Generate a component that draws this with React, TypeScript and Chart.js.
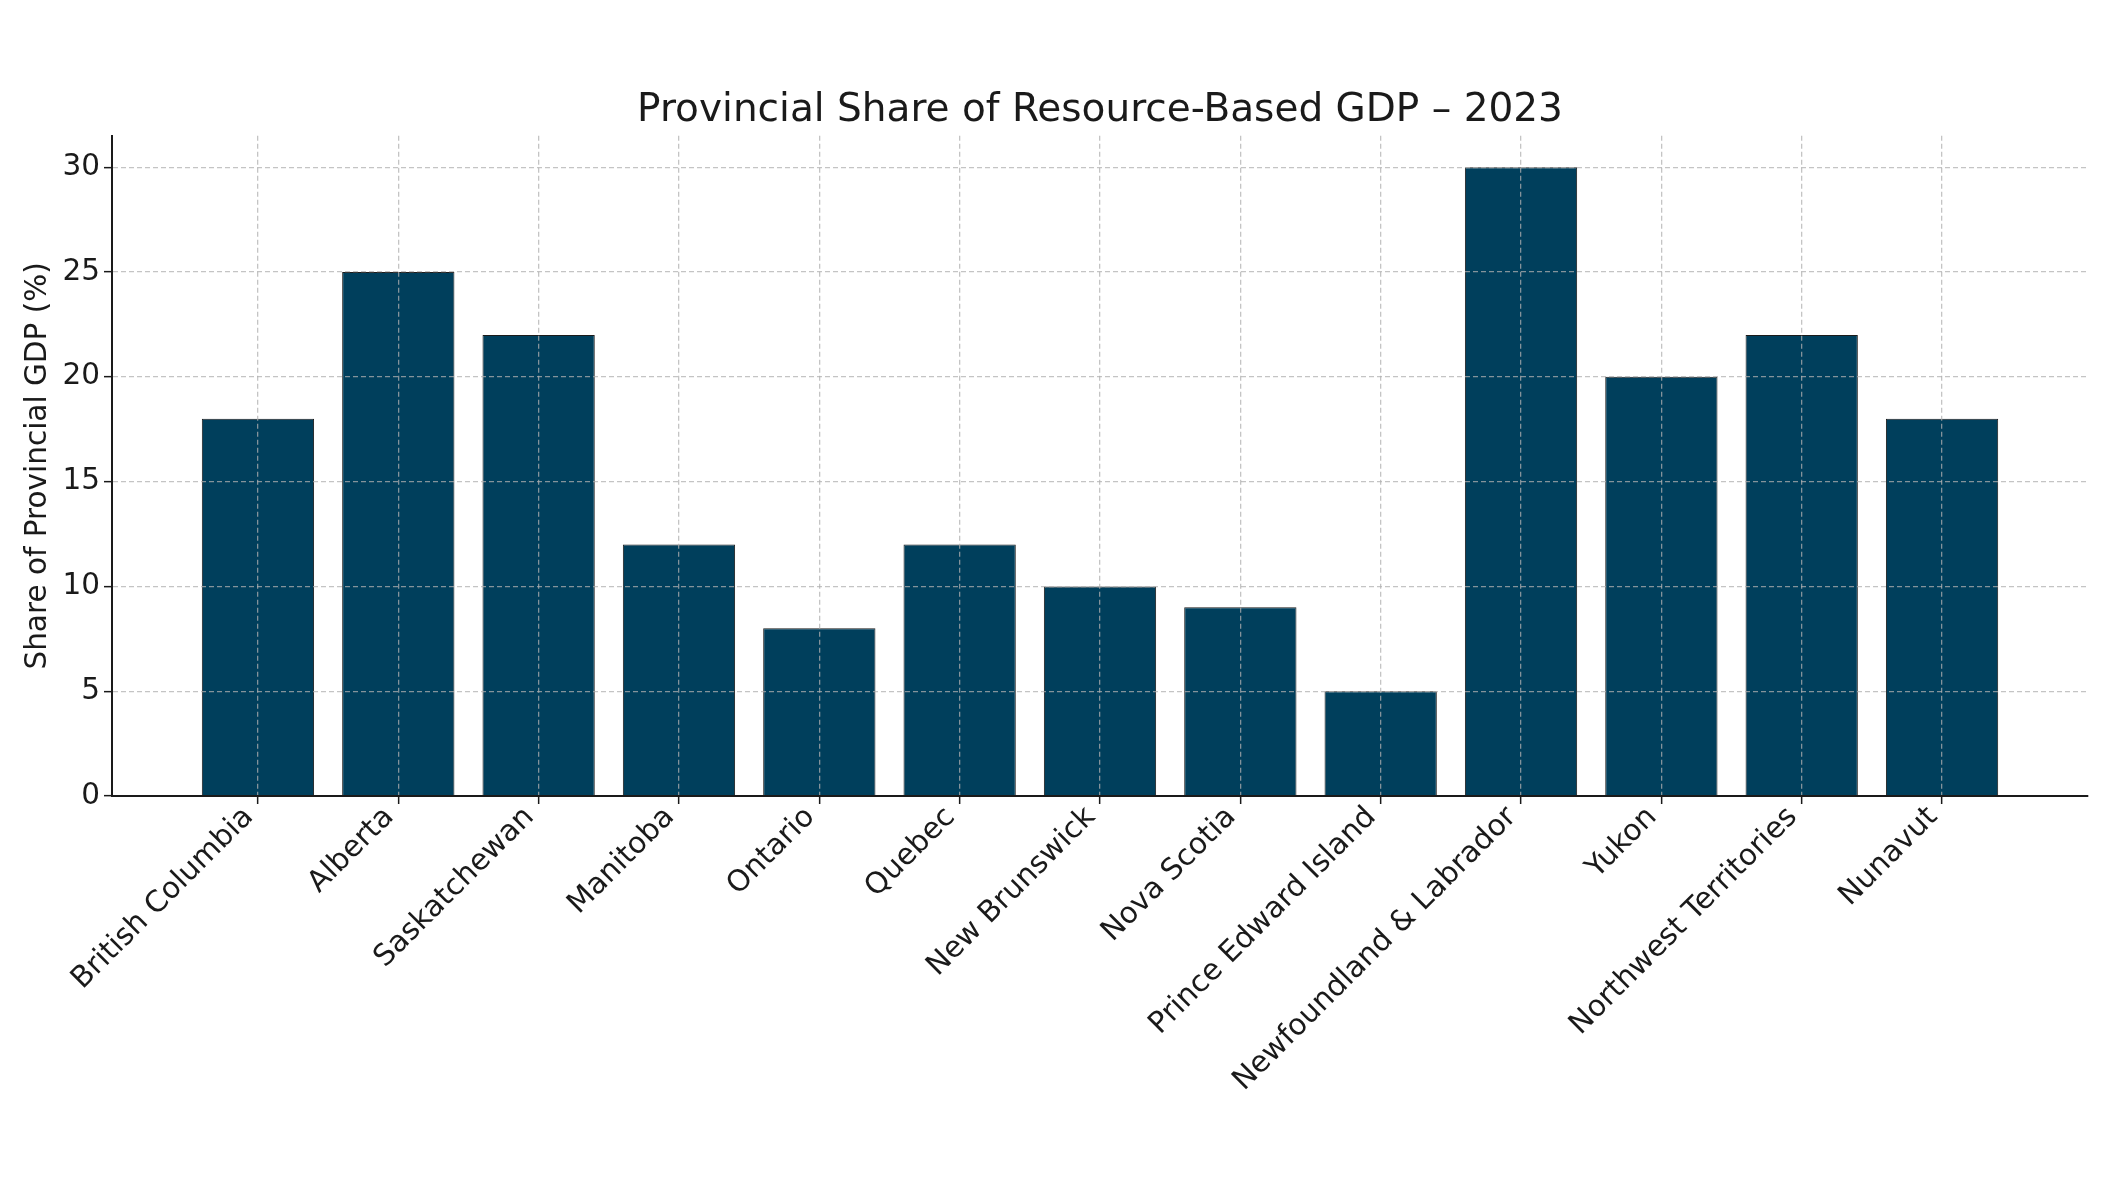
import { useEffect, useRef } from "react";
import { Chart, registerables } from "chart.js";

Chart.register(...registerables);

const provinces = [
  "British Columbia",
  "Alberta",
  "Saskatchewan",
  "Manitoba",
  "Ontario",
  "Quebec",
  "New Brunswick",
  "Nova Scotia",
  "Prince Edward Island",
  "Newfoundland & Labrador",
  "Yukon",
  "Northwest Territories",
  "Nunavut",
];

const resourceShare = [18, 25, 22, 12, 8, 12, 10, 9, 5, 30, 20, 22, 18];

const yTicks = [0, 5, 10, 15, 20, 25, 30];

const FONT = "'DejaVu Sans', sans-serif";
const TEXT = "#1a1a1a";

// matplotlib-like dashed grid drawn above the bars
const gridOpts = {
  z: 1,
  color: "rgba(176,176,176,0.75)",
  lineWidth: 1.3,
  drawTicks: true,
  tickLength: 8,
  tickColor: TEXT,
  tickWidth: 1.5,
  tickBorderDash: [],
};

const App = () => {
  const canvasRef = useRef<HTMLCanvasElement>(null);
  const chartRef = useRef<Chart | null>(null);

  useEffect(() => {
    document.body.style.margin = "0";
    if (!canvasRef.current) return;
    if (chartRef.current) chartRef.current.destroy();

    const ctx = canvasRef.current.getContext("2d");
    if (!ctx) return;

    chartRef.current = new Chart(ctx, {
      type: "bar",
      data: {
        datasets: [
          {
            label: "Share of Provincial GDP (%)",
            data: resourceShare.map((v, i) => ({ x: i, y: v })),
            backgroundColor: "#003f5c",
            borderColor: "#1b1b1b",
            borderWidth: 1,
            barPercentage: 0.8,
            categoryPercentage: 1.0,
          },
        ],
      },
      options: {
        animation: false,
        responsive: true,
        maintainAspectRatio: false,
        layout: { padding: { left: 0, right: 27, top: 0, bottom: 0 } },
        plugins: {
          legend: { display: false },
          tooltip: { enabled: false },
          title: {
            display: true,
            text: "Provincial Share of Resource-Based GDP – 2023",
            fullSize: false,
            color: TEXT,
            font: { family: FONT, size: 39, weight: "normal" },
            padding: { top: 87, bottom: 2 },
          },
        },
        scales: {
          x: {
            type: "linear",
            offset: false,
            min: -1.04,
            max: 13.04,
            afterBuildTicks: (scale) => {
              scale.ticks = provinces.map((_, i) => ({ value: i }));
            },
            afterFit: (scale) => {
              scale.height = 394;
            },
            ticks: {
              autoSkip: false,
              maxRotation: 45,
              minRotation: 45,
              padding: -4,
              labelOffset: -9,
              color: TEXT,
              font: { family: FONT, size: 29.5 },
              callback: (value) => provinces[Number(value)] ?? "",
            },
            grid: { ...gridOpts, offset: false },
            border: { display: true, color: TEXT, width: 2, dash: [5, 3], z: 2 },
          },
          y: {
            min: 0,
            max: 31.5,
            afterBuildTicks: (scale) => {
              scale.ticks = yTicks.map((v) => ({ value: v }));
            },
            afterFit: (scale) => {
              scale.width = 112;
            },
            ticks: {
              padding: 4,
              color: TEXT,
              font: { family: FONT, size: 29.5 },
            },
            grid: gridOpts,
            border: { display: true, color: TEXT, width: 2, dash: [5, 3], z: 2 },
            title: {
              display: true,
              text: "Share of Provincial GDP (%)",
              color: TEXT,
              font: { family: FONT, size: 29.5 },
              padding: { top: 21, bottom: 0 },
            },
          },
        },
      },
    });

    return () => {
      if (chartRef.current) {
        chartRef.current.destroy();
        chartRef.current = null;
      }
    };
  }, []);

  return (
    <div style={{ width: 2115, height: 1190, position: "relative", background: "#fff" }}>
      <canvas ref={canvasRef}></canvas>
    </div>
  );
};

export default App;
